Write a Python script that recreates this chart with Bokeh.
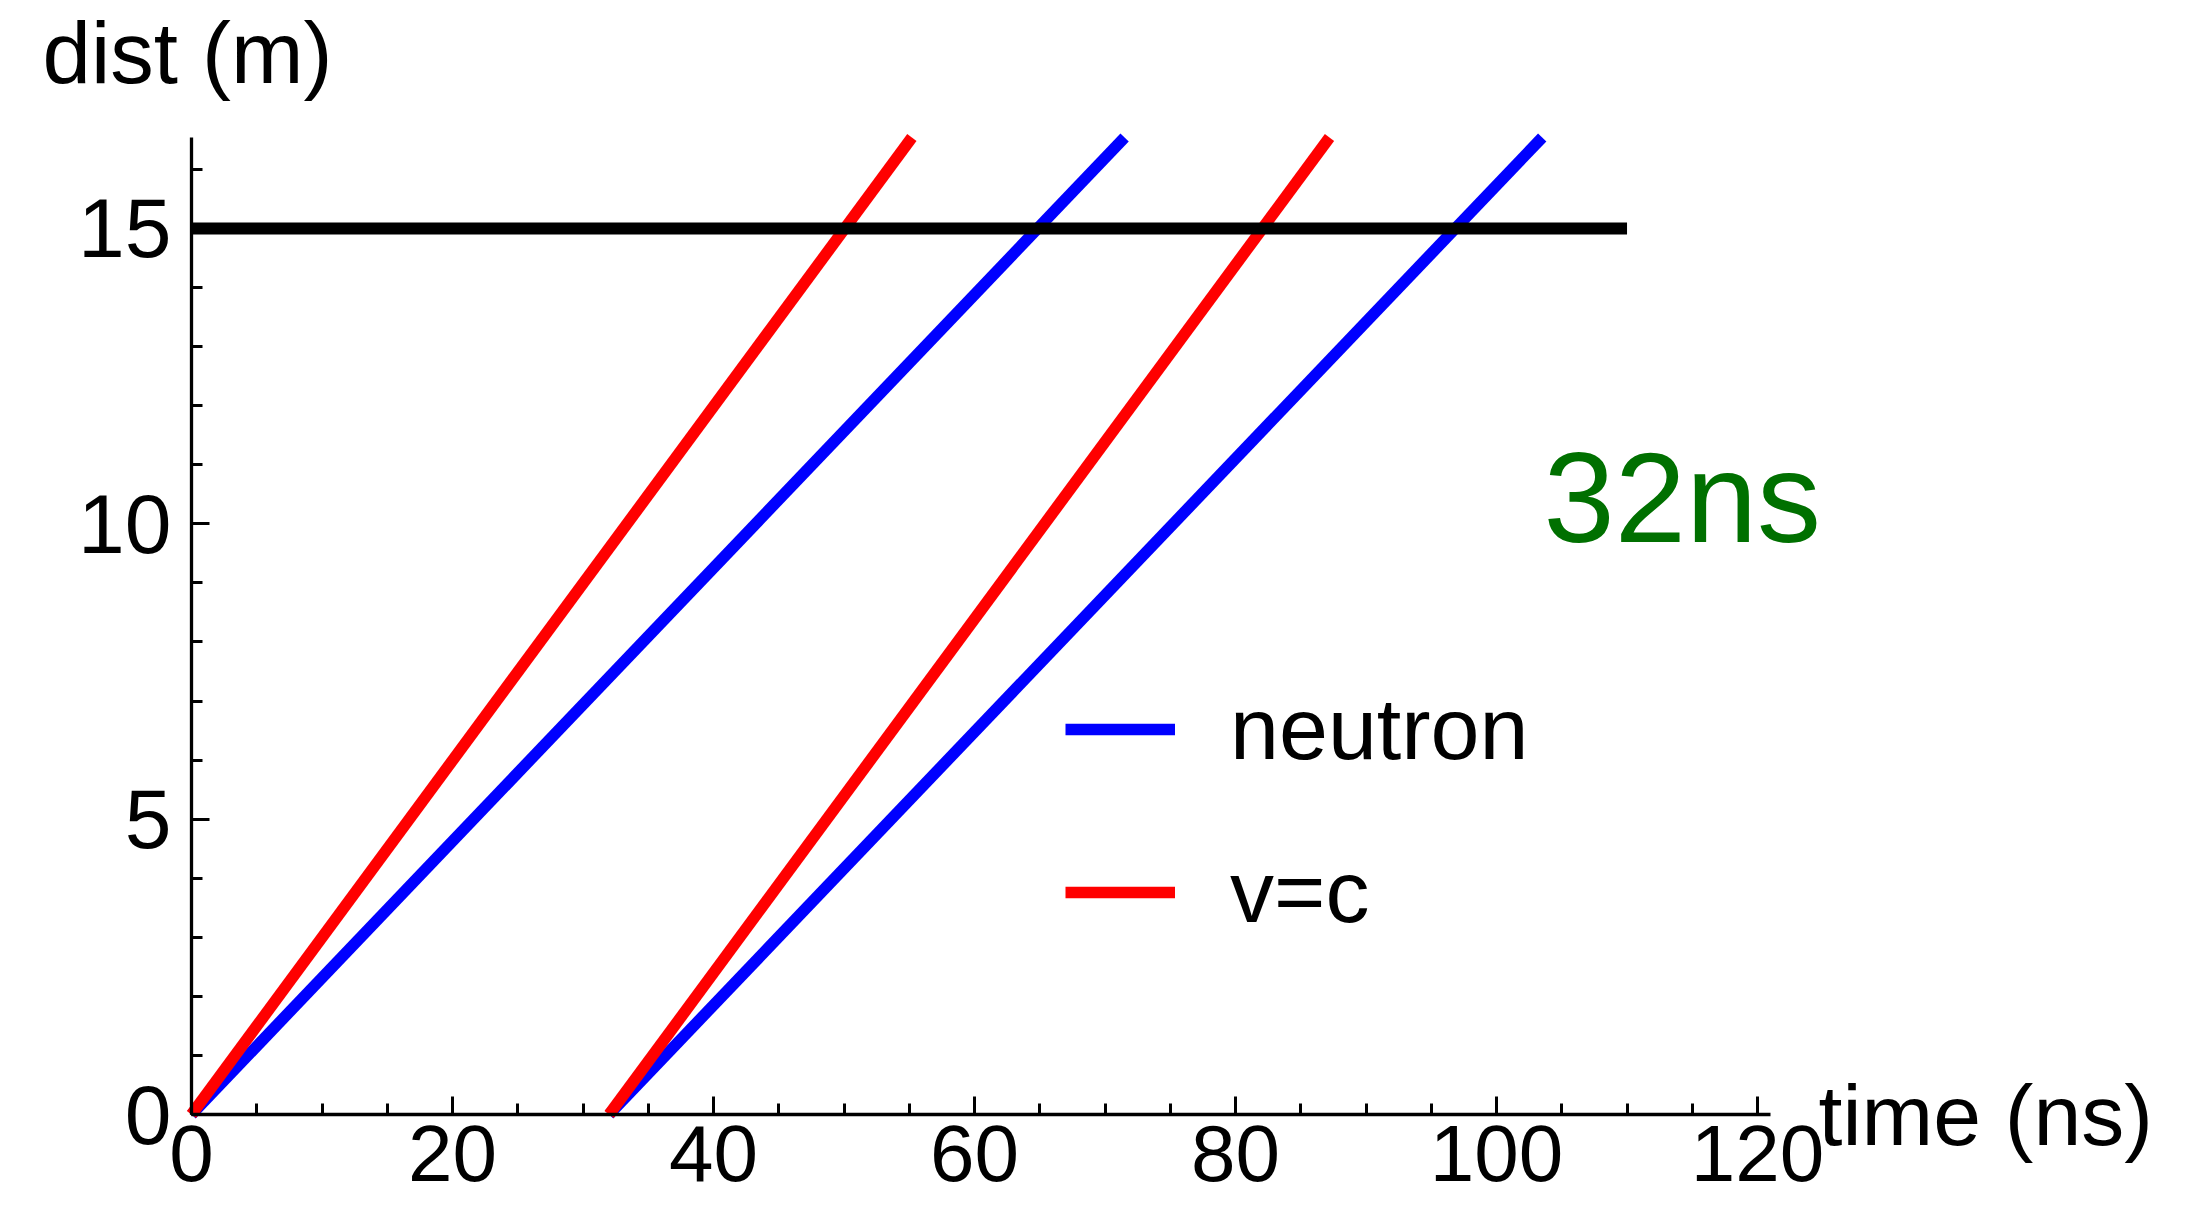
from bokeh.plotting import figure
from bokeh.models import Range1d, SingleIntervalTicker, Label, Legend, LegendItem
from bokeh.embed import file_html
from bokeh.resources import INLINE

# ---- data ----
light_t = [[0, 55.2], [32, 87.2]]          # v=c world lines (time, ns)
light_d = [[0, 16.54], [0, 16.54]]         # distance (m)
neutron_t = [[0, 71.5], [32, 103.5]]       # neutron world lines (time, ns)
neutron_d = [[0, 16.54], [0, 16.54]]
detector_t = [0, 110]                      # detector line at 15 m
detector_d = [15, 15]
x_axis_bounds = (0, 121)
y_axis_bounds = (0, 16.54)
annotation_text = "32ns"

FONT = "Liberation Sans"

p = figure(width=2192, height=1204, output_backend="svg", toolbar_location=None,
           x_range=Range1d(-14.636, 153.33), y_range=Range1d(-1.5236, 18.859),
           min_border=0)
p.outline_line_color = None
p.xgrid.visible = False
p.ygrid.visible = False
p.background_fill_color = "white"

for ax, interval, nminor, bounds in ((p.xaxis[0], 20, 4, x_axis_bounds),
                                     (p.yaxis[0], 5, 5, y_axis_bounds)):
    ax.ticker = SingleIntervalTicker(interval=interval, num_minor_ticks=nminor)
    ax.fixed_location = 0
    ax.bounds = bounds
    ax.axis_line_width = 3.3
    ax.axis_line_color = "black"
    ax.major_tick_in = 18
    ax.major_tick_out = 0
    ax.minor_tick_in = 11
    ax.minor_tick_out = 0
    ax.major_tick_line_width = 3
    ax.minor_tick_line_width = 3
    ax.major_label_text_font = FONT
    ax.major_label_text_font_size = "84px"
    ax.major_label_text_color = "black"
p.xaxis.major_label_text_font_size = "80px"
p.xaxis.major_label_standoff = 11
p.yaxis.major_label_standoff = 20

nr = p.multi_line(neutron_t, neutron_d, line_color="#0000FF", line_width=11.5)
lr = p.multi_line(light_t, light_d, line_color="#FF0000", line_width=11.5)
p.line(detector_t, detector_d, line_color="black", line_width=12)

legend = Legend(items=[LegendItem(label="neutron", renderers=[nr]),
                       LegendItem(label="v=c", renderers=[lr])],
                location=(1065, 261), orientation="vertical",
                glyph_width=110, glyph_height=100, label_height=100,
                label_standoff=55, spacing=61, padding=0, margin=0,
                label_text_font=FONT, label_text_font_size="88px",
                label_text_color="black",
                border_line_color=None, background_fill_alpha=0)
p.add_layout(legend, "center")

p.add_layout(Label(x=42, y=1152, x_units="screen", y_units="screen", text="dist (m)",
                   text_font=FONT, text_font_size="87px", text_color="black",
                   text_baseline="alphabetic"))
p.add_layout(Label(x=1818, y=90, x_units="screen", y_units="screen", text="time (ns)",
                   text_font=FONT, text_font_size="86px", text_color="black",
                   text_baseline="alphabetic"))
p.add_layout(Label(x=103.6, y=10.45, text=annotation_text, text_font=FONT,
                   text_font_size="128px", text_color="#007000", text_baseline="alphabetic"))

open("out.html", "w").write(file_html(p, INLINE))
